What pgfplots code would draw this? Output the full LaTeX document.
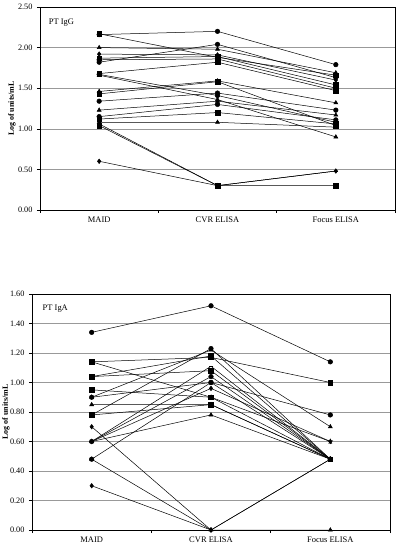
\documentclass[border=0pt]{standalone}
\usepackage{pgfplots}
\pgfplotsset{compat=1.18}
\usepackage{fontspec}
\setmainfont{Liberation Serif}
\begin{document}
\begin{tikzpicture}
\useasboundingbox (0bp,0bp) rectangle (400bp,547bp);
\pgfplotsset{
  panel/.style={
    scale only axis,
    xmin=0, xmax=3,
    xtick={0,1,2,3}, xticklabels={},
    extra x ticks={0.5,1.5,2.5},
    extra x tick labels={MAID,CVR ELISA,Focus ELISA},
    extra x tick style={major tick length=0pt, grid=none},
    tick align=outside,
    major tick length=3bp,
    ytick pos=left, xtick pos=bottom,
    ymajorgrids,
    grid style={gray!80, line width=0.5bp},
    axis line style={line width=0.5bp},
    every tick/.style={black, line width=0.5bp},
    yticklabel style={font=\fontsize{8.3}{9}\selectfont, /pgf/number format/fixed, /pgf/number format/fixed zerofill, /pgf/number format/precision=2, /pgf/number format/assume math mode=true, xshift=-1bp},
    xticklabel style={font=\fontsize{8.5}{9}\selectfont, yshift=-3bp},
    ylabel={\textbf{Log of units/mL}},
    ylabel style={font=\fontsize{8}{9}\selectfont, anchor=center},
    every axis plot/.append style={black, line width=0.5bp, mark size=2.3bp, mark options={solid, fill=black}},
  },
}
% ---------------- Top panel: PT IgG ----------------
\begin{axis}[panel, at={(40bp,337bp)}, anchor=south west,
  width=355bp, height=203bp,
  ymin=0, ymax=2.5, ytick={0,0.5,1,1.5,2,2.5},
  ylabel style={at={(axis description cs:-0.079,0.5)}}]
\addplot[mark=*] coordinates {(0.5,2.16) (1.5,2.20) (2.5,1.79)};
\addplot[mark=square*] coordinates {(0.5,2.17) (1.5,1.88) (2.5,1.66)};
\addplot[mark=triangle*] coordinates {(0.5,2.00) (1.5,1.98) (2.5,1.69)};
\addplot[mark=*] coordinates {(0.5,1.82) (1.5,2.04) (2.5,1.63)};
\addplot[mark=diamond*] coordinates {(0.5,1.92) (1.5,1.91) (2.5,1.60)};
\addplot[mark=square*] coordinates {(0.5,1.87) (1.5,1.89) (2.5,1.54)};
\addplot[mark=*] coordinates {(0.5,1.85) (1.5,1.86) (2.5,1.50)};
\addplot[mark=square*] coordinates {(0.5,1.68) (1.5,1.82) (2.5,1.47)};
\addplot[mark=*] coordinates {(0.5,1.67) (1.5,1.41) (2.5,1.08)};
\addplot[mark=triangle*] coordinates {(0.5,1.66) (1.5,1.36) (2.5,0.90)};
\addplot[mark=triangle*] coordinates {(0.5,1.46) (1.5,1.59) (2.5,1.32)};
\addplot[mark=square*] coordinates {(0.5,1.43) (1.5,1.58) (2.5,1.04)};
\addplot[mark=*] coordinates {(0.5,1.34) (1.5,1.44) (2.5,1.23)};
\addplot[mark=triangle*] coordinates {(0.5,1.23) (1.5,1.34) (2.5,1.17)};
\addplot[mark=*] coordinates {(0.5,1.15) (1.5,1.30) (2.5,1.11)};
\addplot[mark=square*] coordinates {(0.5,1.12) (1.5,1.20) (2.5,1.06)};
\addplot[mark=triangle*] coordinates {(0.5,1.08) (1.5,1.08) (2.5,1.02)};
\addplot[mark=-] coordinates {(0.5,1.06) (1.5,0.30) (2.5,0.48)};
\addplot[mark=square*] coordinates {(0.5,1.04) (1.5,0.30) (2.5,0.30)};
\addplot[mark=diamond*] coordinates {(0.5,0.60) (1.5,0.30) (2.5,0.48)};
\node[anchor=west, font=\fontsize{8.5}{10}\selectfont] at (rel axis cs:0.015,0.925) {PT IgG};
\end{axis}
% ---------------- Bottom panel: PT IgA ----------------
\begin{axis}[panel, at={(32bp,17bp)}, anchor=south west,
  width=358bp, height=236bp,
  ymin=0, ymax=1.6, ytick={0,0.2,0.4,0.6,0.8,1.0,1.2,1.4,1.6},
  ylabel style={at={(axis description cs:-0.073,0.5)}}]
\addplot[mark=*] coordinates {(0.5,1.34) (1.5,1.52) (2.5,1.14)};
\addplot[mark=square*] coordinates {(0.5,1.14) (1.5,1.17) (2.5,1.00)};
\addplot[mark=star, mark size=2.8bp] coordinates {(0.5,1.14) (1.5,0.90) (2.5,0.60)};
\addplot[mark=square*] coordinates {(0.5,1.04) (1.5,1.18) (2.5,0.48)};
\addplot[mark=square*] coordinates {(0.5,1.04) (1.5,1.08) (2.5,0.48)};
\addplot[mark=square*] coordinates {(0.5,0.95) (1.5,0.90) (2.5,0.48)};
\addplot[mark=triangle*] coordinates {(0.5,0.90) (1.5,1.22) (2.5,0.70)};
\addplot[mark=*] coordinates {(0.5,0.90) (1.5,1.00) (2.5,0.78)};
\addplot[mark=triangle*] coordinates {(0.5,0.85) (1.5,0.85) (2.5,0.48)};
\addplot[mark=*] coordinates {(0.5,0.78) (1.5,1.23) (2.5,0.48)};
\addplot[mark=square*] coordinates {(0.5,0.78) (1.5,0.85) (2.5,0.48)};
\addplot[mark=diamond*] coordinates {(0.5,0.70) (1.5,0.00) (2.5,0.48)};
\addplot[mark=-] coordinates {(0.5,0.60) (1.5,1.11) (2.5,0.48)};
\addplot[mark=*] coordinates {(0.5,0.60) (1.5,1.04) (2.5,0.48)};
\addplot[mark=triangle*] coordinates {(0.5,0.60) (1.5,0.78) (2.5,0.48)};
\addplot[mark=diamond*] coordinates {(0.5,0.60) (1.5,0.96) (2.5,0.60)};
\addplot[mark=*] coordinates {(0.5,0.48) (1.5,1.00) (2.5,0.48)};
\addplot[mark=triangle*] coordinates {(0.5,0.48) (1.5,0.00) (2.5,0.00)};
\addplot[mark=diamond*] coordinates {(0.5,0.30) (1.5,0.00) (2.5,0.48)};
\node[anchor=west, font=\fontsize{8.5}{10}\selectfont] at (rel axis cs:0.02,0.94) {PT IgA};
\end{axis}
\end{tikzpicture}
\end{document}
